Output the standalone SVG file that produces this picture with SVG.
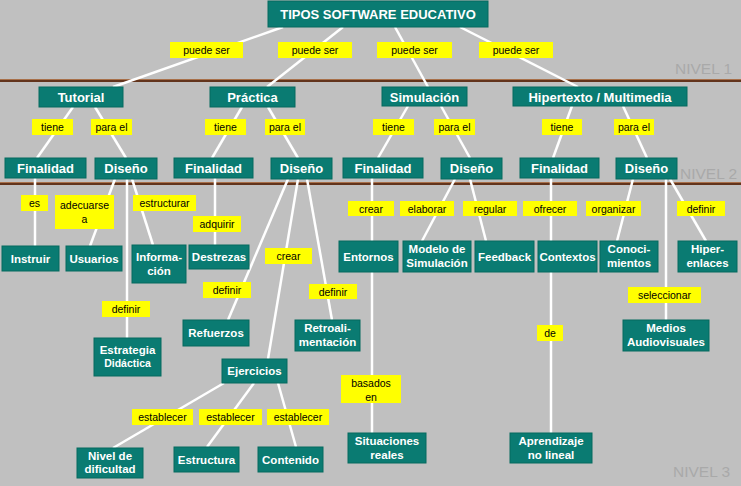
<svg xmlns="http://www.w3.org/2000/svg" width="741" height="486" viewBox="0 0 741 486">
<style>
.bg{fill:#c0c0c0}
.lvl{stroke:#62341c;stroke-width:2}
.lvl2{stroke:#a8704a;stroke-width:1}
.lvt{fill:#a9a9a9;font-family:"Liberation Sans",Arial,sans-serif;font-size:15.5px}
.c line{stroke:#ffffff;stroke-width:2.5}
.lb rect{fill:#ffff00}
.lb text{fill:#000;font-family:"Liberation Sans",Arial,sans-serif;font-size:10.5px;text-anchor:middle}
.n rect{fill:#0a7b72;stroke:#046a5e;stroke-width:1}
.n text{fill:#fff;font-family:"Liberation Sans",Arial,sans-serif;font-weight:bold;font-size:11.5px;text-anchor:middle}
.n text.big{font-size:13px}
.n text.sm{font-size:10.5px}
</style>
<rect class="bg" x="0" y="0" width="741" height="486"/>
<g id="levels">
<line class="lvl2" x1="0" y1="79.5" x2="741" y2="79.5"/>
<line class="lvl" x1="0" y1="81" x2="741" y2="81"/>
<line class="lvl2" x1="0" y1="182.5" x2="741" y2="182.5"/>
<line class="lvl" x1="0" y1="184" x2="741" y2="184"/>
<text class="lvt" x="675" y="74">NIVEL 1</text>
<text class="lvt" x="680" y="179">NIVEL 2</text>
<text class="lvt" x="673" y="477">NIVEL 3</text>
</g>
<g id="connectors" class="c">
<line x1="283" y1="27" x2="113" y2="87"/>
<line x1="343" y1="27" x2="267" y2="87"/>
<line x1="395" y1="27" x2="428" y2="87"/>
<line x1="460" y1="27" x2="578" y2="87"/>
<line x1="73" y1="107" x2="37" y2="158"/>
<line x1="95" y1="107" x2="126" y2="158"/>
<line x1="242" y1="107" x2="212" y2="158"/>
<line x1="268" y1="107" x2="298" y2="158"/>
<line x1="408" y1="106" x2="378" y2="158"/>
<line x1="441" y1="106" x2="470" y2="158"/>
<line x1="572" y1="106" x2="553" y2="158"/>
<line x1="623" y1="106" x2="647" y2="158"/>
<line x1="35" y1="178" x2="35" y2="246"/>
<line x1="115" y1="179" x2="90" y2="246"/>
<line x1="127" y1="179" x2="127" y2="338"/>
<line x1="132" y1="179" x2="153" y2="245"/>
<line x1="215" y1="178" x2="215" y2="245"/>
<line x1="288" y1="179" x2="228" y2="320"/>
<line x1="298" y1="179" x2="268" y2="359"/>
<line x1="307" y1="179" x2="332" y2="320"/>
<line x1="372" y1="178" x2="372" y2="433"/>
<line x1="455" y1="179" x2="422" y2="241"/>
<line x1="470" y1="179" x2="486" y2="241"/>
<line x1="551" y1="178" x2="551" y2="433"/>
<line x1="633" y1="179" x2="617" y2="241"/>
<line x1="666" y1="179" x2="666" y2="320"/>
<line x1="670" y1="179" x2="706" y2="241"/>
<line x1="224" y1="383" x2="113" y2="448"/>
<line x1="254" y1="383" x2="207" y2="447"/>
<line x1="278" y1="383" x2="296" y2="447"/>
<g class="lb">
<rect x="170" y="42" width="73" height="16"/><text x="206.5" y="54">puede ser</text>
<rect x="278" y="42" width="74" height="16"/><text x="315" y="54">puede ser</text>
<rect x="377" y="42" width="75" height="16"/><text x="414.5" y="54">puede ser</text>
<rect x="479" y="42" width="74" height="16"/><text x="516" y="54">puede ser</text>
<rect x="32" y="119" width="41" height="16"/><text x="52.5" y="131">tiene</text>
<rect x="91" y="119" width="41" height="16"/><text x="111.5" y="131">para el</text>
<rect x="205" y="119" width="41" height="16"/><text x="225.5" y="131">tiene</text>
<rect x="265" y="119" width="40" height="16"/><text x="285" y="131">para el</text>
<rect x="373" y="119" width="41" height="16"/><text x="393.5" y="131">tiene</text>
<rect x="434" y="119" width="41" height="16"/><text x="454.5" y="131">para el</text>
<rect x="542" y="119" width="40" height="16"/><text x="562" y="131">tiene</text>
<rect x="614" y="119" width="40" height="16"/><text x="634" y="131">para el</text>
<rect x="21" y="195" width="27" height="16"/><text x="34.5" y="207">es</text>
<rect x="55" y="195" width="59" height="34"/><text x="84.5" y="209">adecuarse</text><text x="84.5" y="223">a</text>
<rect x="133" y="195" width="63" height="16"/><text x="164.5" y="207">estructurar</text>
<rect x="193" y="216" width="48" height="16"/><text x="217" y="228">adquirir</text>
<rect x="265" y="248" width="47" height="16"/><text x="288.5" y="260">crear</text>
<rect x="203" y="282" width="48" height="16"/><text x="227" y="294">definir</text>
<rect x="309" y="284" width="48" height="15"/><text x="333" y="295.5">definir</text>
<rect x="102" y="301" width="48" height="16"/><text x="126" y="313">definir</text>
<rect x="348" y="201" width="46" height="15"/><text x="371" y="212.5">crear</text>
<rect x="400" y="201" width="54" height="15"/><text x="427" y="212.5">elaborar</text>
<rect x="463" y="201" width="54" height="15"/><text x="490" y="212.5">regular</text>
<rect x="523" y="201" width="54" height="15"/><text x="550" y="212.5">ofrecer</text>
<rect x="586" y="201" width="55" height="15"/><text x="613.5" y="212.5">organizar</text>
<rect x="677" y="201" width="48" height="15"/><text x="701" y="212.5">definir</text>
<rect x="628" y="287" width="73" height="16"/><text x="664.5" y="299">seleccionar</text>
<rect x="537" y="325" width="26" height="16"/><text x="550" y="337">de</text>
<rect x="341" y="375" width="60" height="28"/><text x="371" y="387">basados</text><text x="371" y="401">en</text>
<rect x="132" y="409" width="61" height="16"/><text x="162.5" y="421">establecer</text>
<rect x="199" y="409" width="63" height="16"/><text x="230.5" y="421">establecer</text>
<rect x="267" y="409" width="62" height="16"/><text x="298" y="421">establecer</text>
</g>
</g>
<g id="n-tipos" class="n"><rect x="268" y="1" width="220" height="26"/><text class="big" x="378" y="19">TIPOS SOFTWARE EDUCATIVO</text></g>
<g id="n-tutorial" class="n"><rect x="39" y="87" width="84" height="20"/><text class="big" x="81" y="102">Tutorial</text></g>
<g id="n-practica" class="n"><rect x="210" y="87" width="85" height="20"/><text class="big" x="252.5" y="102">Práctica</text></g>
<g id="n-simulacion" class="n"><rect x="382" y="87" width="85" height="19"/><text class="big" x="424.5" y="101.5">Simulación</text></g>
<g id="n-hipertexto" class="n"><rect x="513" y="87" width="174" height="19"/><text class="big" x="600" y="101.5">Hipertexto / Multimedia</text></g>
<g id="n-fin-t" class="n"><rect x="5" y="158" width="81" height="20"/><text class="big" x="45.5" y="172.5">Finalidad</text></g>
<g id="n-dis-t" class="n"><rect x="95" y="158" width="62" height="21"/><text class="big" x="126" y="173">Diseño</text></g>
<g id="n-fin-p" class="n"><rect x="174" y="158" width="79" height="20"/><text class="big" x="213.5" y="172.5">Finalidad</text></g>
<g id="n-dis-p" class="n"><rect x="271" y="158" width="61" height="21"/><text class="big" x="301.5" y="173">Diseño</text></g>
<g id="n-fin-s" class="n"><rect x="343" y="158" width="80" height="20"/><text class="big" x="383" y="172.5">Finalidad</text></g>
<g id="n-dis-s" class="n"><rect x="441" y="158" width="61" height="21"/><text class="big" x="471.5" y="173">Diseño</text></g>
<g id="n-fin-h" class="n"><rect x="520" y="158" width="79" height="20"/><text class="big" x="559.5" y="172.5">Finalidad</text></g>
<g id="n-dis-h" class="n"><rect x="616" y="158" width="61" height="21"/><text class="big" x="646.5" y="173">Diseño</text></g>
<g id="n-instruir" class="n"><rect x="2" y="246" width="57" height="25"/><text x="30.5" y="262.5">Instruir</text></g>
<g id="n-usuarios" class="n"><rect x="66" y="246" width="56" height="25"/><text x="94" y="262.5">Usuarios</text></g>
<g id="n-informacion" class="n"><rect x="132" y="245" width="54" height="38"/><text x="159" y="261">Informa-</text><text x="159" y="275">ción</text></g>
<g id="n-destrezas" class="n"><rect x="189" y="245" width="60" height="24"/><text x="219" y="261">Destrezas</text></g>
<g id="n-refuerzos" class="n"><rect x="183" y="320" width="66" height="26"/><text x="216" y="337">Refuerzos</text></g>
<g id="n-retro" class="n"><rect x="295" y="320" width="65" height="31"/><text x="327.5" y="332">Retroali-</text><text x="327.5" y="346">mentación</text></g>
<g id="n-estrategia" class="n"><rect x="94" y="338" width="67" height="38"/><text x="127.5" y="354">Estrategia</text><text class="sm" x="127.5" y="367">Didáctica</text></g>
<g id="n-ejercicios" class="n"><rect x="222" y="359" width="65" height="24"/><text x="254.5" y="375">Ejercicios</text></g>
<g id="n-entornos" class="n"><rect x="339" y="241" width="59" height="31"/><text x="368.5" y="260.5">Entornos</text></g>
<g id="n-modelo" class="n"><rect x="403" y="241" width="68" height="31"/><text x="437" y="253">Modelo de</text><text x="437" y="267">Simulación</text></g>
<g id="n-feedback" class="n"><rect x="475" y="241" width="59" height="31"/><text x="504.5" y="260.5">Feedback</text></g>
<g id="n-contextos" class="n"><rect x="538" y="241" width="59" height="31"/><text x="567.5" y="260.5">Contextos</text></g>
<g id="n-conocimientos" class="n"><rect x="600" y="241" width="58" height="31"/><text x="629" y="253">Conoci-</text><text x="629" y="267">mientos</text></g>
<g id="n-hiperenlaces" class="n"><rect x="678" y="241" width="59" height="31"/><text x="707.5" y="253">Hiper-</text><text x="707.5" y="267">enlaces</text></g>
<g id="n-medios" class="n"><rect x="623" y="320" width="86" height="31"/><text x="666" y="332">Medios</text><text x="666" y="346">Audiovisuales</text></g>
<g id="n-nivel" class="n"><rect x="77" y="448" width="66" height="30"/><text x="110" y="460">Nivel de</text><text x="110" y="473">dificultad</text></g>
<g id="n-estructura" class="n"><rect x="174" y="447" width="65" height="25"/><text x="206.5" y="464">Estructura</text></g>
<g id="n-contenido" class="n"><rect x="258" y="447" width="65" height="25"/><text x="290.5" y="464">Contenido</text></g>
<g id="n-situaciones" class="n"><rect x="348" y="433" width="78" height="30"/><text x="387" y="445">Situaciones</text><text x="387" y="459">reales</text></g>
<g id="n-aprendizaje" class="n"><rect x="510" y="433" width="82" height="30"/><text x="551" y="445">Aprendizaje</text><text x="551" y="459">no lineal</text></g>
</svg>
